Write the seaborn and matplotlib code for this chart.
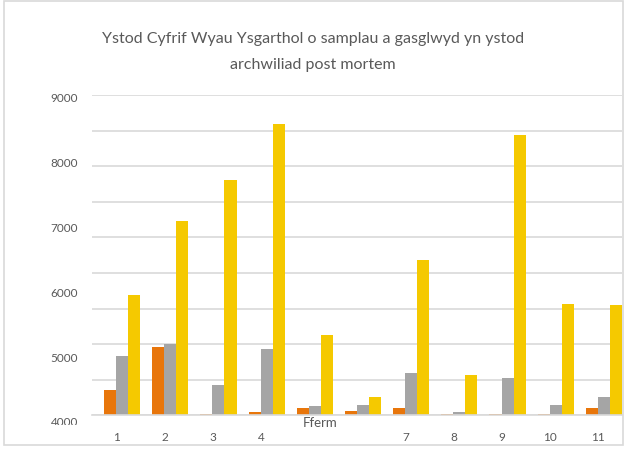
import numpy as np
import pandas as pd
import matplotlib
matplotlib.use("Agg")
import matplotlib.pyplot as plt
import matplotlib.transforms as mtransforms
from matplotlib.patches import Rectangle
import seaborn as sns

# ---------------- data ----------------
farms = ['1', '2', '3', '4', '5', '6', '7', '8', '9', '10', '11']
farm_tick_labels = ['1', '2', '3', '4', '', '', '7', '8', '9', '10', '11']
series_names = ['Cyfres 1', 'Cyfres 2', 'Cyfres 3']
series_1 = [710, 1920, 40, 100, 200, 120, 200, 40, 40, 40, 200]
series_2 = [1670, 1990, 840, 1850, 260, 290, 1200, 100, 1060, 290, 510]
series_3 = [3390, 5450, 6600, 8190, 2250, 510, 4350, 1140, 7880, 3140, 3090]
y_tick_labels = ['4000', '5000', '6000', '7000', '8000', '9000']
title_text = "Ystod Cyfrif Wyau Ysgarthol o samplau a gasglwyd yn ystod\narchwiliad post mortem"
x_title = "Fferm"

df = pd.DataFrame({
    'farm': farms * 3,
    'series': sum([[s] * len(farms) for s in series_names], []),
    'value': series_1 + series_2 + series_3,
})

# ---------------- style ----------------
sns.set_theme(style="white")
plt.rcParams['font.family'] = ['Lato', 'DejaVu Sans']
text_col = '#595959'
grid_col = '#D9D9D9'
palette = ['#E8760B', '#A5A5A5', '#F5C900']

W, H = 627, 452
ax_l, ax_r, ax_t, ax_b = 92, 622, 96, 416.3
fig = plt.figure(figsize=(W / 100, H / 100), dpi=100)
ax = fig.add_axes([ax_l / W, (H - ax_b) / H, (ax_r - ax_l) / W, (ax_b - ax_t) / H])

sns.barplot(data=df, x='farm', y='value', hue='series', palette=palette,
            order=farms, hue_order=series_names, width=0.75, gap=0,
            saturation=1, legend=False, ax=ax, edgecolor='none')

slot_px = (ax_r - ax_l) / len(farms)
shift = 6 / slot_px
ax.set_xlim(-0.5 - shift, len(farms) - 0.5 - shift)
ax.set_ylim(0, 9000)

# gridlines (every 1000, no labels)
ax.set_yticks(np.arange(0, 9001, 1000), minor=True)
ax.yaxis.grid(True, which='minor', color=grid_col, linewidth=1.2)
ax.yaxis.grid(False, which='major')
ax.set_axisbelow(True)
ax.tick_params(axis='y', which='both', length=0)

# y labels evenly spaced as in the reference
px_per_unit_grid = (ax_b - ax_t) / 9000
label_step_px = 65.1
top_label_px = 97.3
label_vals = [int(v) for v in y_tick_labels]
label_pos = [(ax_b - (top_label_px + (9000 - v) / 1000 * label_step_px)) / px_per_unit_grid
             for v in label_vals]
major_pos = [p for p in label_pos if p >= 0]
major_lab = [l for l, p in zip(y_tick_labels, label_pos) if p >= 0]
ax.set_yticks(major_pos)
ax.set_yticklabels(major_lab)
ypad_px = 14
ax.tick_params(axis='y', which='major', pad=ypad_px * 0.72, labelsize=8.5, labelcolor=text_col)
for l, p in zip(y_tick_labels, label_pos):
    if p < 0:
        trans = mtransforms.blended_transform_factory(ax.transAxes, ax.transData)
        t = ax.text(-ypad_px / (ax_r - ax_l), p, l, transform=trans, ha='right', va='center',
                    fontsize=8.5, color=text_col, clip_on=True)
        t.set_clip_box(mtransforms.Bbox([[0, H - 426], [W, H]]))

# x ticks
ax.set_xticks(range(len(farms)))
ax.set_xticklabels(farm_tick_labels)
ax.tick_params(axis='x', length=0, pad=11, labelsize=8.5, labelcolor=text_col)
off = mtransforms.ScaledTranslation(-5.5 / 100, 0, fig.dpi_scale_trans)
for lab in ax.get_xticklabels():
    lab.set_transform(lab.get_transform() + off)

ax.set_ylabel('')
ax.set_xlabel(x_title, fontsize=9.5, color=text_col)
ax.xaxis.set_label_coords((320 - ax_l) / (ax_r - ax_l), -0.003)

for s in ['top', 'right', 'left']:
    ax.spines[s].set_visible(False)
ax.spines['bottom'].set_color(grid_col)
ax.spines['bottom'].set_linewidth(1.2)

# title
fig.text(313 / W, (H - 52) / H, title_text, ha='center', va='center',
         fontsize=11.5, color=text_col, linespacing=2.0)

# chart border
fig.patches.append(Rectangle((4 / W, (H - 446) / H), (623 - 4) / W, (446 - 2) / H,
                             transform=fig.transFigure, fill=False,
                             edgecolor=grid_col, linewidth=1.2))

fig.savefig('out.png', dpi=100)
